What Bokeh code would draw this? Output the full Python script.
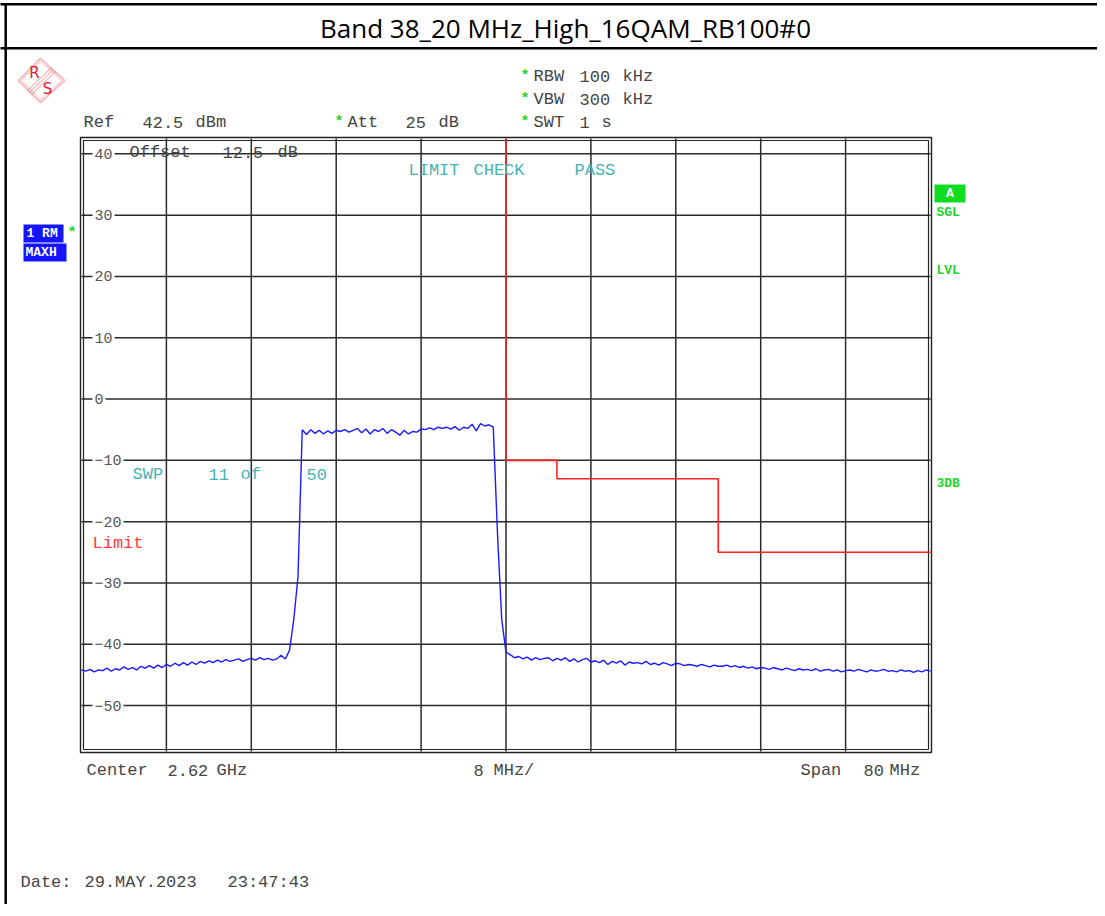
import numpy as np
from bokeh.plotting import figure
from bokeh.models import Range1d, Label, PolyAnnotation
from bokeh.embed import file_html
from bokeh.resources import INLINE

# ---------------- data ----------------
TITLE = "Band 38_20 MHz_High_16QAM_RB100#0"
F_START, F_STOP = 2580.0, 2660.0      # MHz (Center 2.62 GHz, Span 80 MHz)
REF_LEVEL, BOTTOM_LEVEL = 42.5, -57.5  # dBm
SWEEP_STEP = 0.4                       # MHz between trace points

noise_left = [-44.2, -44.4, -44.1, -44.5, -44.2, -44.3, -43.9, -44.4, -44.0, -44.2,
              -43.7, -44.1, -43.8, -44.2, -43.6, -43.9, -43.5, -43.9, -43.4, -43.8,
              -43.3, -43.6, -43.1, -43.5, -43.0, -43.4, -42.9, -43.3, -42.8, -43.1,
              -42.7, -43.0, -42.6, -42.9, -42.5, -42.8, -42.6, -42.4, -42.8, -42.5,
              -42.3, -42.6, -42.2, -42.5, -42.3, -42.6, -42.4, -41.8, -42.4]
rise = [-41.0, -36.0, -29.0]
plateau = [-5.0, -5.8, -5.0, -5.6, -5.1, -5.7, -5.2, -5.6, -5.1, -5.3,
           -5.0, -5.4, -5.1, -4.8, -5.5, -4.9, -5.7, -5.0, -5.3, -4.8,
           -5.6, -5.0, -5.4, -5.9, -5.1, -5.7, -5.3, -5.4, -4.9, -5.0,
           -4.7, -5.0, -4.6, -4.8, -4.6, -4.9, -4.5, -5.1, -4.6, -4.8,
           -4.1, -5.2, -4.0, -4.4, -4.2, -4.6]
fall = [-22.0, -36.0, -41.3]
noise_right = [-41.7, -42.2, -42.0, -42.4, -42.1, -42.6, -42.2, -42.5, -42.3, -42.2,
               -42.7, -42.3, -42.6, -42.2, -42.8, -42.4, -42.9, -42.5, -42.3, -42.9,
               -42.7, -43.0, -42.6, -43.3, -42.8, -43.1, -42.7, -43.4, -42.9, -43.1,
               -43.0, -43.2, -42.8, -43.3, -43.1, -43.4, -43.0, -43.2, -43.5, -43.1,
               -43.2, -43.5, -43.3, -43.4, -43.6, -43.3, -43.5, -43.7, -43.4, -43.6,
               -43.6, -43.4, -43.7, -43.5, -43.8, -43.6, -43.9, -43.7, -44.0, -43.8,
               -43.9, -44.1, -43.8, -44.0, -44.2, -43.9, -44.1, -44.3, -44.0, -44.2,
               -44.1, -44.3, -44.0, -44.4, -44.2, -44.1, -44.4, -44.2, -44.5, -44.3,
               -44.2, -44.4, -44.1, -44.3, -44.5, -44.2, -44.4, -44.3, -44.1, -44.4,
               -44.3, -44.5, -44.2, -44.4, -44.3, -44.6, -44.3, -44.5, -44.2, -44.4]
trace_level = noise_left + rise + plateau + fall + noise_right
trace_freq = [round(F_START + i * SWEEP_STEP, 1) for i in range(len(trace_level))]

limit_freq = [2620.0, 2620.0, 2624.8, 2624.8, 2640.0, 2640.0, 2660.0]
limit_level = [42.5, -10.0, -10.0, -13.0, -13.0, -25.0, -25.0]

x_grid_ticks = [2588, 2596, 2604, 2612, 2620, 2628, 2636, 2644, 2652]
y_ticks = [40, 30, 20, 10, 0, -10, -20, -30, -40, -50]
y_tick_labels = ["40", "30", "20", "10", "0", "\u221210", "\u221220", "\u221230", "\u221240", "\u221250"]

# ---------------- layout (pixels) ----------------
OFF = 8                                   # page offset compensation
W, H = 1105, 912
FX0, FX1, FY0, FY1 = 81, 930, 138, 751    # where the data area sits (reference pixels)

def fx(px):
    return F_START + (px - FX0) * (F_STOP - F_START) / (FX1 - FX0)

def fy(py):
    return REF_LEVEL - (py - FY0) * (REF_LEVEL - BOTTOM_LEVEL) / (FY1 - FY0)

p = figure(width=W, height=H, output_backend="svg", toolbar_location=None,
           x_range=Range1d(fx(-OFF), fx(W - OFF)), y_range=Range1d(fy(H - OFF), fy(-OFF)),
           x_axis_location=None, y_axis_location=None, min_border=0)
p.styles = {"margin-left": "-8px", "margin-top": "-8px"}
p.background_fill_color = "white"
p.border_fill_color = "white"
p.outline_line_color = None
p.grid.visible = False

# grid
p.segment(x0=x_grid_ticks, y0=[BOTTOM_LEVEL] * len(x_grid_ticks),
          x1=x_grid_ticks, y1=[REF_LEVEL] * len(x_grid_ticks),
          line_color="#2b2b2b", line_width=1.5)
p.segment(x0=[F_START] * len(y_ticks), y0=y_ticks, x1=[F_STOP] * len(y_ticks), y1=y_ticks,
          line_color="#2b2b2b", line_width=1.5)

# double frame border
p.quad(left=[fx(80)], right=[fx(931)], top=[fy(137)], bottom=[fy(752)],
       fill_alpha=0, line_color="#222222", line_width=1.4)
p.quad(left=[fx(83)], right=[fx(928)], top=[fy(140)], bottom=[fy(749)],
       fill_alpha=0, line_color="#222222", line_width=1.2)

# limit line & trace
p.line(limit_freq, limit_level, line_color="#ff2020", line_width=1.6)
p.line(trace_freq, trace_level, line_color="#1a1aff", line_width=1.4)

# ---------------- text helpers ----------------
MONO = "Liberation Mono"

def lab(px, py, text, color, size=17, font=MONO, bold=False, align="left",
        baseline="middle"):
    kw = dict(x=fx(px), y=fy(py), text=text, text_color=color,
              text_font_size=f"{size}px", text_font=font, text_align=align,
              text_baseline=baseline)
    if bold:
        kw["text_font_style"] = "bold"
    p.add_layout(Label(**kw))

def box(x0, y0, x1, y1, color):
    p.quad(left=[fx(x0)], right=[fx(x1)], top=[fy(y0)], bottom=[fy(y1)],
           fill_color=color, line_alpha=0)

# table borders and title (page-layout lines, running past the right edge)
p.segment(x0=[fx(0)], y0=[fy(3.7)], x1=[fx(1140)], y1=[fy(3.7)], line_color="black", line_width=2.5)
p.segment(x0=[fx(0)], y0=[fy(47.7)], x1=[fx(1140)], y1=[fy(47.7)], line_color="black", line_width=2.5)
p.segment(x0=[fx(5.2)], y0=[fy(2.5)], x1=[fx(5.2)], y1=[fy(H)], line_color="black", line_width=2.5)
lab(565, 27, TITLE, "black", size=26, font="Open Sans", align="center")

# R&S logo
LOGO_RED = "#d8202c"
p.add_layout(PolyAnnotation(xs=[fx(40), fx(64), fx(40), fx(18)], ys=[fy(58), fy(80), fy(102), fy(80)],
                            fill_alpha=0, line_color=LOGO_RED, line_width=2))
p.add_layout(PolyAnnotation(xs=[fx(40), fx(61), fx(40), fx(21)], ys=[fy(61), fy(80), fy(99), fy(80)],
                            fill_alpha=0, line_color=LOGO_RED, line_width=1))
for d in (-2, 0, 2):
    p.add_layout(PolyAnnotation(xs=[fx(53 + d), fx(29 + d)], ys=[fy(69 + d), fy(92 + d)],
                                fill_alpha=0, line_color=LOGO_RED, line_width=1.2))
lab(34, 72, "R", LOGO_RED, size=15, font="DejaVu Sans", align="center")
lab(47, 88, "S", LOGO_RED, size=15, font="DejaVu Sans", align="center")

GRAY = "#454545"
GREEN = "#1fd42a"
TEAL = "#45b4b4"
# header settings
lab(520, 76, "*", GREEN, size=15, bold=True)
lab(533, 76, "RBW", GRAY); lab(579, 76, "100", GRAY); lab(622, 76, "kHz", GRAY)
lab(520, 99, "*", GREEN, size=15, bold=True)
lab(533, 99, "VBW", GRAY); lab(579, 99, "300", GRAY); lab(622, 99, "kHz", GRAY)
lab(520, 122, "*", GREEN, size=15, bold=True)
lab(533, 122, "SWT", GRAY); lab(579, 122, "1", GRAY); lab(601, 122, "s", GRAY)
lab(83, 122, "Ref", GRAY); lab(142, 122, "42.5", GRAY); lab(195, 122, "dBm", GRAY)
lab(334, 122, "*", GREEN, size=15, bold=True)
lab(347, 122, "Att", GRAY); lab(405, 122, "25", GRAY); lab(438, 122, "dB", GRAY)

# in-frame annotations
lab(129, 152, "Offset", GRAY); lab(222, 152, "12.5", GRAY); lab(277, 152, "dB", GRAY)
lab(408, 170, "LIMIT", TEAL); lab(473, 170, "CHECK", TEAL); lab(574, 170, "PASS", TEAL)
lab(132, 474, "SWP", TEAL); lab(208, 474, "11", TEAL); lab(240, 474, "of", TEAL); lab(306, 474, "50", TEAL)
lab(92, 543, "Limit", "#ff3b3b")

# y tick labels (inside the frame, breaking the grid lines)
for v, t in zip(y_ticks, y_tick_labels):
    p.add_layout(Label(x=fx(92), y=v, text=t, text_color="#555555", text_font=MONO,
                       text_font_size="15px", text_align="left", text_baseline="middle",
                       background_fill_color="white", padding=2))

# trace / status markers
BLUE_BOX = "#1414ff"
box(23, 224, 63, 242, BLUE_BOX)
box(23, 243, 66, 261, BLUE_BOX)
lab(26, 233, "1 RM", "white", size=13, bold=True)
lab(25, 252, "MAXH", "white", size=13, bold=True)
lab(67, 233, "*", GREEN, size=15, bold=True)
box(934, 184, 965, 202, "#10dc20")
lab(949.5, 193, "A", "white", size=13, bold=True, align="center")
lab(936, 212, "SGL", GREEN, size=13, bold=True)
lab(936, 270, "LVL", GREEN, size=13, bold=True)
lab(936, 483, "3DB", GREEN, size=13, bold=True)

# bottom annotations
lab(86, 770, "Center", GRAY); lab(167, 770, "2.62", GRAY); lab(216, 770, "GHz", GRAY)
lab(473, 770, "8", GRAY); lab(493, 770, "MHz/", GRAY)
lab(800, 770, "Span", GRAY); lab(863, 770, "80", GRAY); lab(889, 770, "MHz", GRAY)
lab(20, 882, "Date:", GRAY); lab(84, 882, "29.MAY.2023", GRAY); lab(227, 882, "23:47:43", GRAY)

open("out.html", "w").write(file_html(p, INLINE))
